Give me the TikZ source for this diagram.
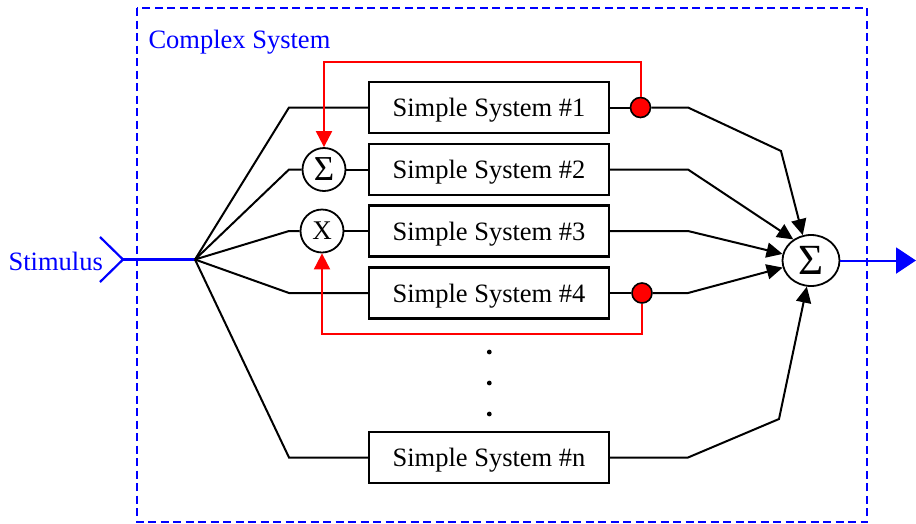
\documentclass[tikz,border=0pt]{standalone}
\usepackage{fontspec}
\setmainfont{Liberation Serif}
\usetikzlibrary{arrows.meta,shapes.geometric}

\tikzset{
  sysbox/.style={draw, line width=2.2pt, minimum width=240pt, minimum height=51pt,
    inner sep=0pt, text depth=0pt, font=\fontsize{26.5}{30}\selectfont},
  opcirc/.style={draw, circle, line width=1.8pt, minimum size=43pt, inner sep=0pt},
  tap/.style={draw, circle, fill=red, line width=1.6pt, minimum size=20pt, inner sep=0pt},
  wire/.style={line width=2pt, line join=miter},
  feed/.style={line width=2pt, red, -{Triangle[length=16pt,width=16pt]}},
  into/.style={wire, -{Triangle[length=16pt,width=15pt]}},
  dotmark/.style={circle, fill=black, minimum size=4.8pt, inner sep=0pt},
  bluetext/.style={blue, font=\fontsize{26.5}{30}\selectfont},
}

\begin{document}
\begin{tikzpicture}[x=1pt, y=-1pt]
\useasboundingbox (0,0) rectangle (916,523);

% enclosing system boundary
\draw[blue, line width=2.2pt, dash pattern=on 8pt off 4.5pt] (137,8) rectangle (867,522);
\node[bluetext, anchor=west] (title) at (145,42) {Complex System};

% input
\node[bluetext, anchor=east, inner sep=0pt] (stim) at (103,261) {Stimulus};
\coordinate (chev) at (123,259.5);
\coordinate (chevtop) at (100,237);
\coordinate (chevbot) at (100,282);
\coordinate (fan) at (195,259.5);
\draw[blue, line width=2.2pt] (chevtop) -- (chev) -- (chevbot);
\draw[blue, line width=2.2pt] (chev) -- (fan);

% subsystems
\node[sysbox] (s1) at (489,107.5) {Simple System \#1};
\node[sysbox] (s2) at (489,169.5) {Simple System \#2};
\node[sysbox] (s3) at (489,231) {Simple System \#3};
\node[sysbox] (s4) at (489,293) {Simple System \#4};
\node[sysbox] (sn) at (489,457.5) {Simple System \#n};

% combining operators
\node[opcirc, font=\fontsize{35}{35}\selectfont] (sg) at (324,169.5) {Σ};
\node[opcirc, font=\fontsize{27}{27}\selectfont] (mx) at (322,231) {X};
\node[draw, ellipse, line width=1.8pt, minimum width=57pt, minimum height=51pt, inner sep=0pt,
  font=\fontsize{43}{43}\selectfont] (sum) at (811,260.5) {Σ};

% output taps
\node[tap] (d1) at (640.5,107.5) {};
\node[tap] (d4) at (642,293) {};

% ellipsis dots
\node[dotmark] (e1) at (489.3,352) {};
\node[dotmark] (e2) at (489.3,383) {};
\node[dotmark] (e3) at (489.3,414) {};

% fan-out from the stimulus
\coordinate (bx) at (289,0);
\draw[wire] (fan) -- (s1.west -| bx) -- (s1.west);
\draw[wire] (fan) -- (sg.west -| bx) -- (sg.west);
\draw[wire] (sg.east) -- (s2.west);
\draw[wire] (fan) -- (mx.west -| bx) -- (mx.west);
\draw[wire] (mx.east) -- (s3.west);
\draw[wire] (fan) -- (s4.west -| bx) -- (s4.west);
\draw[wire] (fan) -- (sn.west -| bx) -- (sn.west);

% fan-in to the output summer
\coordinate (ox) at (688,0);
\coordinate (k1) at (781,151);
\coordinate (kn) at (779,419);
\draw[wire] (s1.east) -- (d1.west);
\draw[into] (d1.east) -- (s1.east -| ox) -- (k1) -- (sum.108);
\draw[into] (s2.east) -- (s2.east -| ox) -- (sum.130);
\draw[into] (s3.east) -- (s3.east -| ox) -- (sum.167);
\draw[wire] (s4.east) -- (d4.west);
\draw[into] (d4.east) -- (s4.east -| ox) -- (sum.194);
\draw[into] (sn.east) -- (sn.east -| ox) -- (kn) -- (sum.261);

% feedback paths
\coordinate (fy1) at (0,62);
\coordinate (fy4) at (0,334);
\draw[feed] (d1.north) -- (d1 |- fy1) -- (sg |- fy1) -- (sg.north);
\draw[feed] (d4.south) -- (d4 |- fy4) -- (mx |- fy4) -- (mx.south);

% output
\coordinate (out) at (916,260.5);
\draw[blue, line width=2pt, -{Triangle[length=20pt,width=26pt]}] (sum.east) -- (out);
\end{tikzpicture}
\end{document}
